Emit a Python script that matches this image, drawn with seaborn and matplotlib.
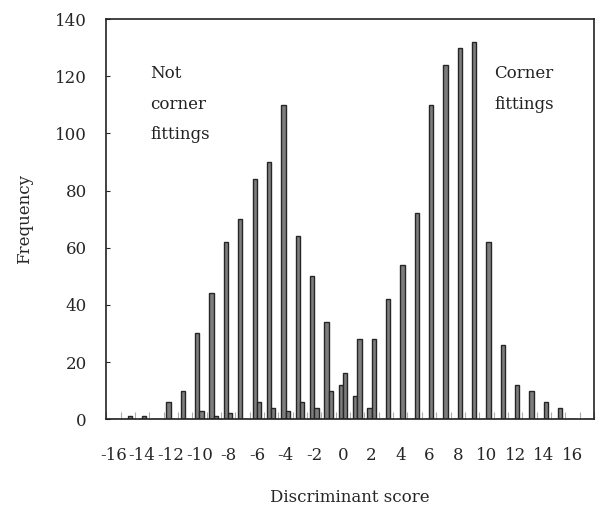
import matplotlib
matplotlib.use("Agg")
import matplotlib.pyplot as plt
import seaborn as sns
import pandas as pd
import numpy as np

# ---- data ----
scores = list(range(-16, 18))
not_corner = [0, 0, 0, 0, 6, 10, 30, 44, 62, 70, 84, 90, 110, 64, 50, 34, 12, 8, 4,
              0, 0, 0, 0, 0, 0, 0, 0, 0, 0, 0, 0, 0, 0, 0]
corner = [0, 1, 1, 0, 0, 0, 3, 1, 2, 0, 6, 4, 3, 6, 4, 10, 16, 28, 28,
          42, 54, 72, 110, 124, 130, 132, 62, 26, 12, 10, 6, 4, 0, 0]
group_names = ["Not corner fittings", "Corner fittings"]
x_tick_labels = [str(v) for v in range(-16, 17, 2)]
y_ticks = list(range(0, 141, 20))

df = pd.DataFrame({
    "score": scores * 2,
    "freq": not_corner + corner,
    "group": [group_names[0]] * len(scores) + [group_names[1]] * len(scores),
})

sns.set_style("ticks")
plt.rcParams["font.family"] = ["DejaVu Serif"]

fig = plt.figure(figsize=(6, 5.15), dpi=100)
ax = fig.add_axes([0.177, 0.186, 0.813, 0.777])

sns.barplot(data=df, x="score", y="freq", hue="group", order=scores,
            hue_order=group_names, palette=["#7d7d7d", "#7d7d7d"],
            edgecolor="#262626", linewidth=1.0, width=0.6, legend=False,
            ax=ax, errorbar=None)

ax.set_xlim(-0.5, len(scores) - 0.5)
ax.set_ylim(0, 140)
ax.set_yticks(y_ticks)
ax.set_yticklabels([str(v) for v in y_ticks], fontsize=12)

major_pos = [scores.index(int(t)) for t in x_tick_labels]
ax.set_xticks(major_pos)
ax.set_xticklabels(x_tick_labels, fontsize=12)
ax.set_xticks([p + 0.5 for p in range(-1, len(scores))], minor=True)
ax.tick_params(axis="x", which="major", length=0, pad=20)
ax.tick_params(axis="x", which="minor", direction="in", length=5, color="#aaaaaa", width=0.8)
ax.tick_params(axis="y", direction="in", length=3, pad=14, width=0.8)

for s in ax.spines.values():
    s.set_visible(True)
    s.set_color("#222222")
    s.set_linewidth(1.2)

ax.set_xlabel("Discriminant score", fontsize=12, labelpad=18)
ax.set_ylabel("Frequency", fontsize=12, labelpad=16)

ax.text(0.09, 0.885, "Not\ncorner\nfittings", transform=ax.transAxes, fontsize=12,
        va="top", ha="left", linespacing=2.05, color="#222222")
ax.text(0.795, 0.885, "Corner\nfittings", transform=ax.transAxes, fontsize=12,
        va="top", ha="left", linespacing=2.05, color="#222222")

fig.savefig("out.png", dpi=100)
